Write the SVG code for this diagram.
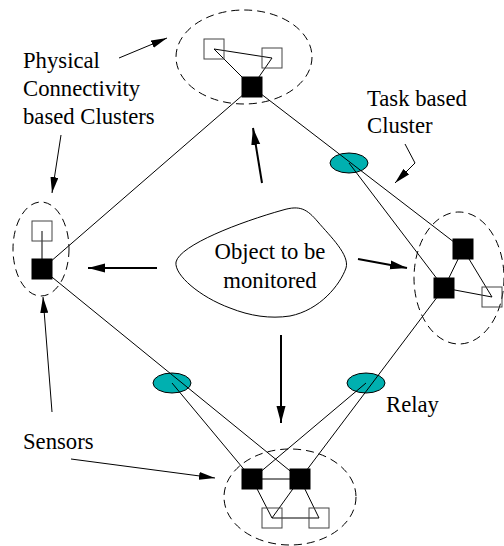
<svg xmlns="http://www.w3.org/2000/svg" width="504" height="546" viewBox="0 0 504 546">
<defs>
<style>
.cl{fill:none;stroke:#000;stroke-width:1;stroke-dasharray:8 5}
.ln{fill:none;stroke:#000;stroke-width:1}
.fs{fill:#000;stroke:#000;stroke-width:1}
.os{fill:none;stroke:#444;stroke-width:1}
.rl{fill:#00b0b0;stroke:#000;stroke-width:1}
.ar{fill:none;stroke:#000;stroke-width:1;marker-end:url(#ah)}
.arb{fill:none;stroke:#000;stroke-width:2;marker-end:url(#ahb)}
.tx{font-family:'Liberation Serif','DejaVu Serif',serif;font-size:22.7px;fill:#000}
</style>
<marker id="ah" markerUnits="userSpaceOnUse" markerWidth="16" markerHeight="8" refX="16" refY="4" orient="auto">
<path d="M0,0 L16,4 L0,8 z" fill="#000"/>
</marker>
<marker id="ahb" markerUnits="userSpaceOnUse" markerWidth="17" markerHeight="10" refX="17" refY="5" orient="auto">
<path d="M0,0.5 L17,5 L0,9.5 z" fill="#000"/>
</marker>
</defs>
<rect width="504" height="546" fill="#fff"/>

<g id="relays">
<ellipse id="relay-top" class="rl" cx="349" cy="163" rx="19" ry="10"/>
<ellipse id="relay-left" class="rl" cx="172" cy="383" rx="19" ry="10"/>
<ellipse id="relay-right" class="rl" cx="366" cy="383" rx="19" ry="10"/>
</g>

<g id="connectors">
<line class="ln" x1="252" y1="87" x2="42" y2="269"/>
<line class="ln" x1="252" y1="87" x2="463" y2="249" stroke-width="1.3"/>
<line class="ln" x1="349" y1="163" x2="444" y2="288"/>
<line class="ln" x1="42" y1="269" x2="300" y2="479"/>
<line class="ln" x1="172" y1="383" x2="252" y2="479"/>
<line class="ln" x1="366" y1="383" x2="252" y2="479"/>
<line class="ln" x1="444" y1="288" x2="300" y2="479"/>
</g>

<g id="cluster-top">
<ellipse class="cl" cx="244" cy="57" rx="68" ry="47"/>
<polyline class="ln" points="252,87 214,49 272,58 252,87"/>
<rect class="os" x="204" y="39" width="20" height="20"/>
<rect class="os" x="262" y="48" width="20" height="20"/>
<rect class="fs" x="242" y="77" width="20" height="20"/>
</g>

<g id="cluster-left">
<ellipse class="cl" cx="41" cy="249" rx="28" ry="47"/>
<line class="ln" x1="42" y1="231" x2="42" y2="269"/>
<rect class="os" x="32" y="221" width="20" height="20"/>
<rect class="fs" x="32" y="259" width="20" height="20"/>
</g>

<g id="cluster-right">
<ellipse class="cl" cx="459" cy="278" rx="45" ry="66"/>
<polyline class="ln" points="444,288 463,249 492,297 444,288"/>
<rect class="os" x="482" y="287" width="20" height="20"/>
<rect class="fs" x="453" y="239" width="20" height="20"/>
<rect class="fs" x="434" y="278" width="20" height="20"/>
</g>

<g id="cluster-bottom">
<ellipse class="cl" cx="290" cy="497" rx="66" ry="48"/>
<polyline class="ln" points="252,479 272,518 300,479 319,518 272,518"/>
<line class="ln" x1="252" y1="479" x2="300" y2="479"/>
<rect class="os" x="262" y="508" width="20" height="20"/>
<rect class="os" x="309" y="508" width="20" height="20"/>
<rect class="fs" x="242" y="469" width="20" height="20"/>
<rect class="fs" x="290" y="469" width="20" height="20"/>
</g>

<g id="object">
<path class="ln" d="M176,262 C180,245 240,222 283,210 C300,205 307,209 318,222 C330,236 350,255 346,268 C340,285 320,310 290,316 C270,319 250,316 230,308 C200,297 174,275 176,262 Z"/>
<text class="tx" x="270" y="259" text-anchor="middle">Object to be</text>
<text class="tx" x="270" y="288" text-anchor="middle">monitored</text>
</g>

<g id="object-arrows">
<line class="arb" x1="262" y1="183" x2="253" y2="128"/>
<line class="arb" x1="157" y1="268" x2="88" y2="268"/>
<line class="arb" x1="358" y1="259" x2="407" y2="268"/>
<line class="arb" x1="281" y1="335" x2="281" y2="423"/>
</g>

<g id="labels">
<text class="tx" x="23" y="68">Physical</text>
<text class="tx" x="23" y="96">Connectivity</text>
<text class="tx" x="23" y="124">based Clusters</text>
<text class="tx" x="367" y="106">Task based</text>
<text class="tx" x="367" y="133">Cluster</text>
<text class="tx" x="23" y="449">Sensors</text>
<text class="tx" x="386" y="412">Relay</text>
</g>

<g id="label-arrows">
<line class="ar" x1="119" y1="58" x2="167" y2="38"/>
<line class="ar" x1="61" y1="135" x2="52" y2="193"/>
<polyline class="ar" points="405,144 415,163 395,183"/>
<line class="ar" x1="52" y1="412" x2="43" y2="297"/>
<line class="ar" x1="71" y1="459" x2="215" y2="478"/>
</g>
</svg>
